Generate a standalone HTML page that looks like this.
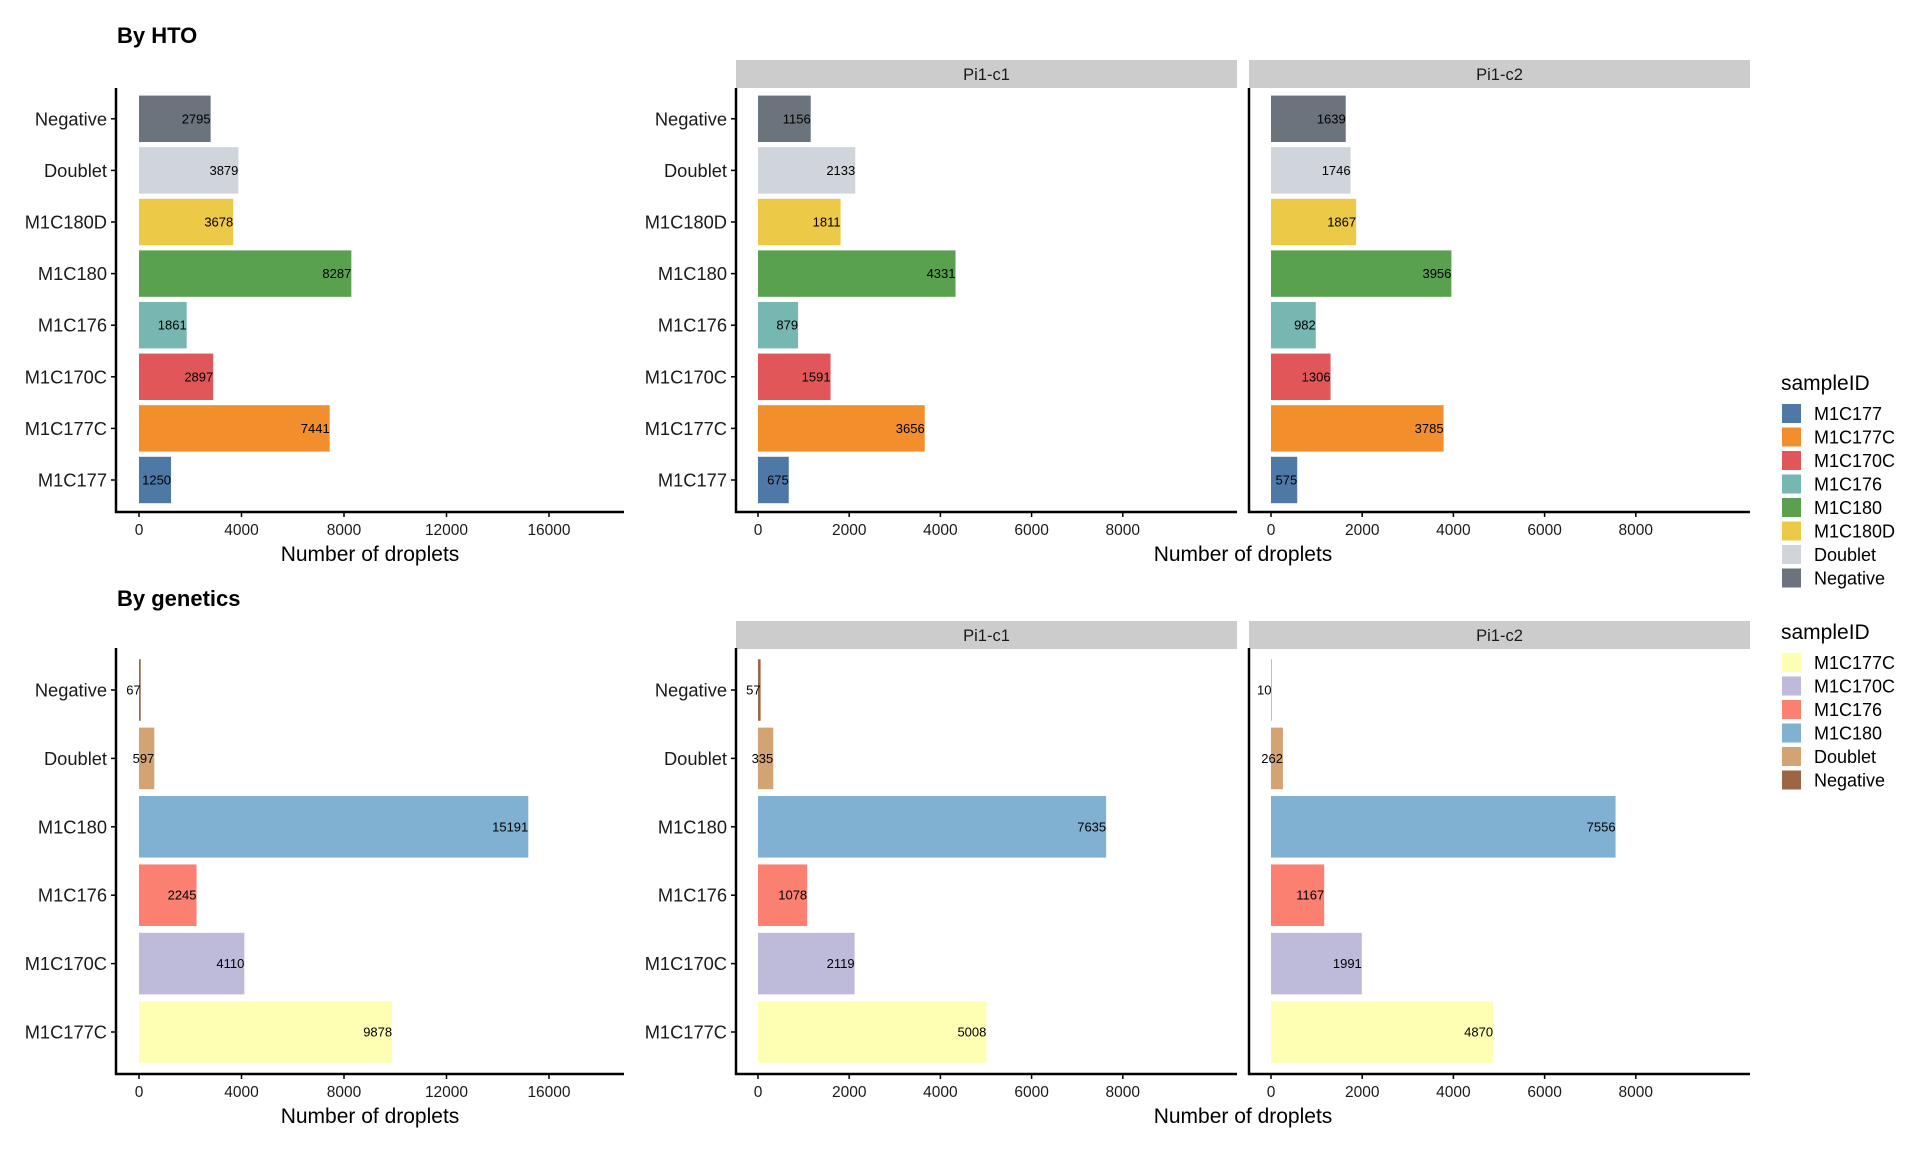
<!DOCTYPE html>
<html><head><meta charset="utf-8"><style>
html,body{margin:0;padding:0;background:#fff}
svg{display:block;font-family:"Liberation Sans",Arial,sans-serif}
</style></head><body>
<svg id="chart" width="1920" height="1152" viewBox="0 0 1920 1152" xmlns="http://www.w3.org/2000/svg">
<text x="117" y="43" font-size="22" font-weight="bold">By HTO</text>
<text x="117" y="606" font-size="22" font-weight="bold">By genetics</text>
</svg>
<script>
const htoCategories = ["M1C177","M1C177C","M1C170C","M1C176","M1C180","M1C180D","Doublet","Negative"];
const htoColors = ["#4e79a7","#f28e2b","#e15759","#76b7b2","#59a14f","#edc948","#d0d4db","#6b737c"];
const htoAll = [1250,7441,2897,1861,8287,3678,3879,2795];
const htoC1 = [675,3656,1591,879,4331,1811,2133,1156];
const htoC2 = [575,3785,1306,982,3956,1867,1746,1639];

const genCategories = ["M1C177C","M1C170C","M1C176","M1C180","Doublet","Negative"];
const genColors = ["#ffffb3","#bebada","#fb8072","#80b1d3","#d4a373","#9c6644"];
const genAll = [9878,4110,2245,15191,597,67];
const genC1 = [5008,2119,1078,7635,335,57];
const genC2 = [4870,1991,1167,7556,262,10];

const ticksAll = [0,4000,8000,12000,16000];
const ticksFacet = [0,2000,4000,6000,8000];

const svg = document.getElementById('chart');
const NS = 'http://www.w3.org/2000/svg';
function mk(tag, attrs, parent){
  const e = document.createElementNS(NS, tag);
  for (const k in attrs) e.setAttribute(k, attrs[k]);
  (parent||svg).appendChild(e);
  return e;
}

function panel(cfg){
  const g = mk('g', {});
  
  
  const xs = v => cfg.x0 + v * cfg.pxPer;
  const ys = i => cfg.yBottom - i * cfg.step;
  const bh = cfg.step * 0.9;
  if (cfg.strip){
    const s = mk('rect', {x: cfg.axisX, y: cfg.stripTop, width: cfg.right - cfg.axisX, height: cfg.stripH, fill: '#cccccc'}, g);
    
    
    const st = mk('text', {x: (cfg.axisX + cfg.right)/2, y: cfg.stripTop + cfg.stripH/2 + 6, 'font-size': 16.5, 'text-anchor': 'middle', fill: '#1a1a1a'}, g);
    st.textContent = cfg.strip;
    
    
  }
  cfg.values.forEach((v, i) => {
    const cy = ys(i);
    const r = mk('rect', {x: xs(0), y: cy - bh/2, width: Math.max(0, xs(v) - xs(0)), height: bh, fill: cfg.colors[i]}, g);
    
    
    const t = mk('text', {x: xs(v), y: cy + 4.5, 'font-size': 13, 'text-anchor': 'end', fill: '#000'}, g);
    t.textContent = v;
    
    
    if (cfg.yLabels){
      mk('line', {x1: cfg.axisX - 5, x2: cfg.axisX, y1: cy, y2: cy, stroke: '#000', 'stroke-width': 1.5}, g);
      const yl = mk('text', {x: cfg.axisX - 9, y: cy + 6.5, 'font-size': 18.3, 'text-anchor': 'end', fill: '#1a1a1a'}, g);
      yl.textContent = cfg.categories[i];
      
      
    }
  });
  cfg.ticks.forEach(tv => {
    const x = xs(tv);
    mk('line', {x1: x, x2: x, y1: cfg.axisBottom, y2: cfg.axisBottom + 5, stroke: '#000', 'stroke-width': 1.5}, g);
    const tl = mk('text', {x: x, y: cfg.axisBottom + 23, 'font-size': 15.5, 'text-anchor': 'middle', fill: '#1a1a1a'}, g);
    tl.textContent = tv;
    
    
  });
  const ya = mk('line', {x1: cfg.axisX, x2: cfg.axisX, y1: cfg.axisTop, y2: cfg.axisBottom + 1, stroke: '#000', 'stroke-width': 2.5}, g);
  
  
  const xa = mk('line', {x1: cfg.axisX - 1, x2: cfg.right, y1: cfg.axisBottom, y2: cfg.axisBottom, stroke: '#000', 'stroke-width': 2.5}, g);
  
  
}

function row(r){
  const base = {axisTop: r.axisTop, axisBottom: r.axisBottom, yBottom: r.yBottom, step: r.step, colors: r.colors, categories: r.categories, stripTop: r.stripTop, stripH: 28};
  panel(Object.assign({}, base, {name: r.key + '-all-panel', values: r.all, axisX: 116, x0: 139, pxPer: 102.5/4000, right: 624, ticks: ticksAll, yLabels: true}));
  panel(Object.assign({}, base, {name: r.key + '-pi1-c1-panel', values: r.c1, axisX: 736, x0: 758, pxPer: 91.2/2000, right: 1237, ticks: ticksFacet, yLabels: true, strip: 'Pi1-c1'}));
  panel(Object.assign({}, base, {name: r.key + '-pi1-c2-panel', values: r.c2, axisX: 1249, x0: 1271, pxPer: 91.2/2000, right: 1750, ticks: ticksFacet, yLabels: false, strip: 'Pi1-c2'}));
  const t1 = mk('text', {x: 370, y: r.axisBottom + 49, 'font-size': 21, 'text-anchor': 'middle', fill: '#000'});
  t1.textContent = 'Number of droplets';
  
  
  const t2 = mk('text', {x: 1243, y: r.axisBottom + 49, 'font-size': 21, 'text-anchor': 'middle', fill: '#000'});
  t2.textContent = 'Number of droplets';
  
  
  const lg = mk('g', {});
  
  
  const lt = mk('text', {x: 1781, y: r.legendTitleY, 'font-size': 21, fill: '#000'}, lg);
  lt.textContent = 'sampleID';
  
  
  r.categories.forEach((c, i) => {
    const ky = r.legendKeyY + i * 23.5;
    const k = mk('rect', {x: 1782, y: ky, width: 19, height: 19, fill: r.colors[i]}, lg);
    
    
    const kt = mk('text', {x: 1814, y: ky + 16, 'font-size': 18, fill: '#000'}, lg);
    kt.textContent = c;
    
    
  });
}

row({key: 'hto', categories: htoCategories, colors: htoColors, all: htoAll, c1: htoC1, c2: htoC2,
     axisTop: 88, axisBottom: 512, yBottom: 480, step: 51.6, stripTop: 60, legendTitleY: 390, legendKeyY: 404});
row({key: 'genetics', categories: genCategories, colors: genColors, all: genAll, c1: genC1, c2: genC2,
     axisTop: 648, axisBottom: 1074, yBottom: 1032, step: 68.4, stripTop: 621, legendTitleY: 639, legendKeyY: 653});
</script>
</body></html>
